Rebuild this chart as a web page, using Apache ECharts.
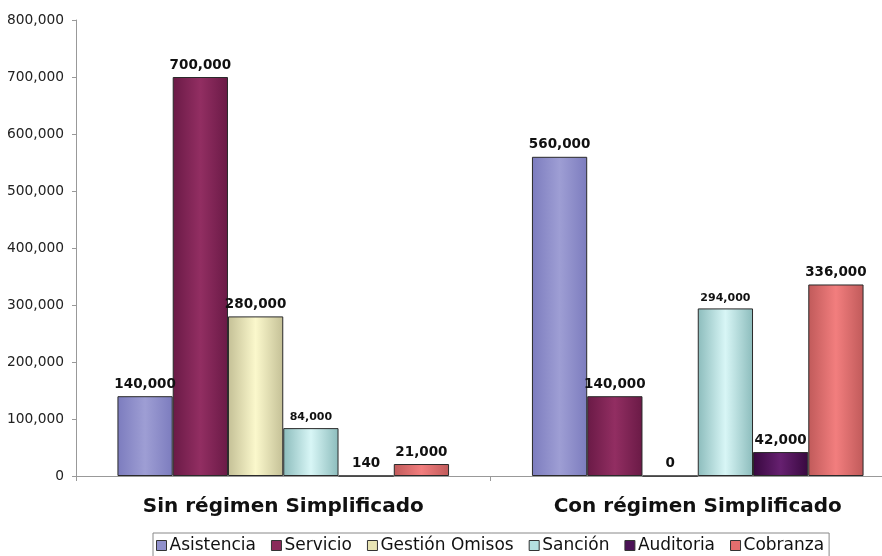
<!DOCTYPE html>
<html>
<head>
<meta charset="utf-8">
<script src="https://cdn.jsdelivr.net/npm/echarts@6/dist/echarts.min.js"></script>
<style>
  html, body { margin: 0; padding: 0; background: #fff; overflow: hidden; }
  /* the plot runs a little past the right edge of the window */
  #chart { width: 905px; height: 556px; }
</style>
</head>
<body>
<div id="chart"></div>
<script>
// Categories along the x axis
const categories = ['Sin régimen Simplificado', 'Con régimen Simplificado'];

// One array per series, in category order
const asistencia = [140000, 560000];
const servicio = [700000, 140000];
const gestionOmisos = [280000, 0];
const sancion = [84000, 294000];
const auditoria = [140, 42000];
const cobranza = [21000, 336000];

const seriesNames = ['Asistencia', 'Servicio', 'Gestión Omisos', 'Sanción', 'Auditoria', 'Cobranza'];
const seriesValues = [asistencia, servicio, gestionOmisos, sancion, auditoria, cobranza];

// Edge / centre colours for the shaded bars, plus the flat legend colour
const palette = [
  { edge: '#7c7cbe', mid: '#9e9ed4', flat: '#9090cc' },
  { edge: '#6a1a46', mid: '#922e62', flat: '#8a2a5a' },
  { edge: '#c4c096', mid: '#fbf8cc', flat: '#e8e4b4' },
  { edge: '#8cbcbc', mid: '#d8f6f6', flat: '#b4e0e0' },
  { edge: '#38083f', mid: '#662070', flat: '#4a1256' },
  { edge: '#c05a5a', mid: '#f27e7e', flat: '#e46e6e' }
];

// Smaller label font for one series
const smallLabels = { 'Sanción': 11 };

function shade(p) {
  return {
    type: 'linear', x: 0, y: 0, x2: 1, y2: 0,
    colorStops: [
      { offset: 0, color: p.edge },
      { offset: 0.5, color: p.mid },
      { offset: 1, color: p.edge }
    ]
  };
}

const series = seriesNames.map((name, i) => ({
  name: name,
  type: 'bar',
  barGap: '0%',
  barCategoryGap: '20%',
  data: seriesValues[i],
  itemStyle: { color: shade(palette[i]), borderColor: '#2a2a2a', borderWidth: 1 },
  label: {
    show: true,
    position: 'top',
    distance: 5,
    color: '#111',
    fontFamily: 'DejaVu Sans',
    fontWeight: 'bold',
    fontSize: smallLabels[name] || 13.5,
    formatter: (p) => p.value.toLocaleString('en-US')
  }
}));

const chart = echarts.init(document.getElementById('chart'), null, { renderer: 'canvas' });
chart.setOption({
  animation: false,
  color: palette.map(p => p.flat),
  grid: { left: 76, right: 0, top: 20, bottom: 80, containLabel: false },
  legend: {
    data: seriesNames.map((n, i) => ({
      name: n,
      itemStyle: { color: palette[i].flat, borderColor: '#333', borderWidth: 1 }
    })),
    top: 533,
    left: 153,
    icon: 'rect',
    itemWidth: 10,
    itemHeight: 10,
    itemGap: 15,
    padding: [4, 5, 6, 3],
    borderColor: '#888',
    borderWidth: 1,
    textStyle: { fontFamily: 'DejaVu Sans', fontSize: 17, color: '#111', padding: [0, 0, 0, -2] }
  },
  xAxis: {
    type: 'category',
    data: categories,
    axisLine: { lineStyle: { color: '#999' } },
    axisTick: { show: true, length: 5, lineStyle: { color: '#999' } },
    axisLabel: {
      margin: 21,
      color: '#111',
      fontFamily: 'DejaVu Sans',
      fontWeight: 'bold',
      fontSize: 20
    }
  },
  yAxis: {
    type: 'value',
    min: 0,
    max: 800000,
    interval: 100000,
    axisLine: { show: true, lineStyle: { color: '#999' } },
    axisTick: { show: true, length: 4, lineStyle: { color: '#999' } },
    splitLine: { show: false },
    axisLabel: {
      margin: 12,
      color: '#222',
      fontFamily: 'DejaVu Sans',
      fontSize: 13.8,
      formatter: (v) => v.toLocaleString('en-US')
    }
  },
  series: series
});
</script>
</body>
</html>
